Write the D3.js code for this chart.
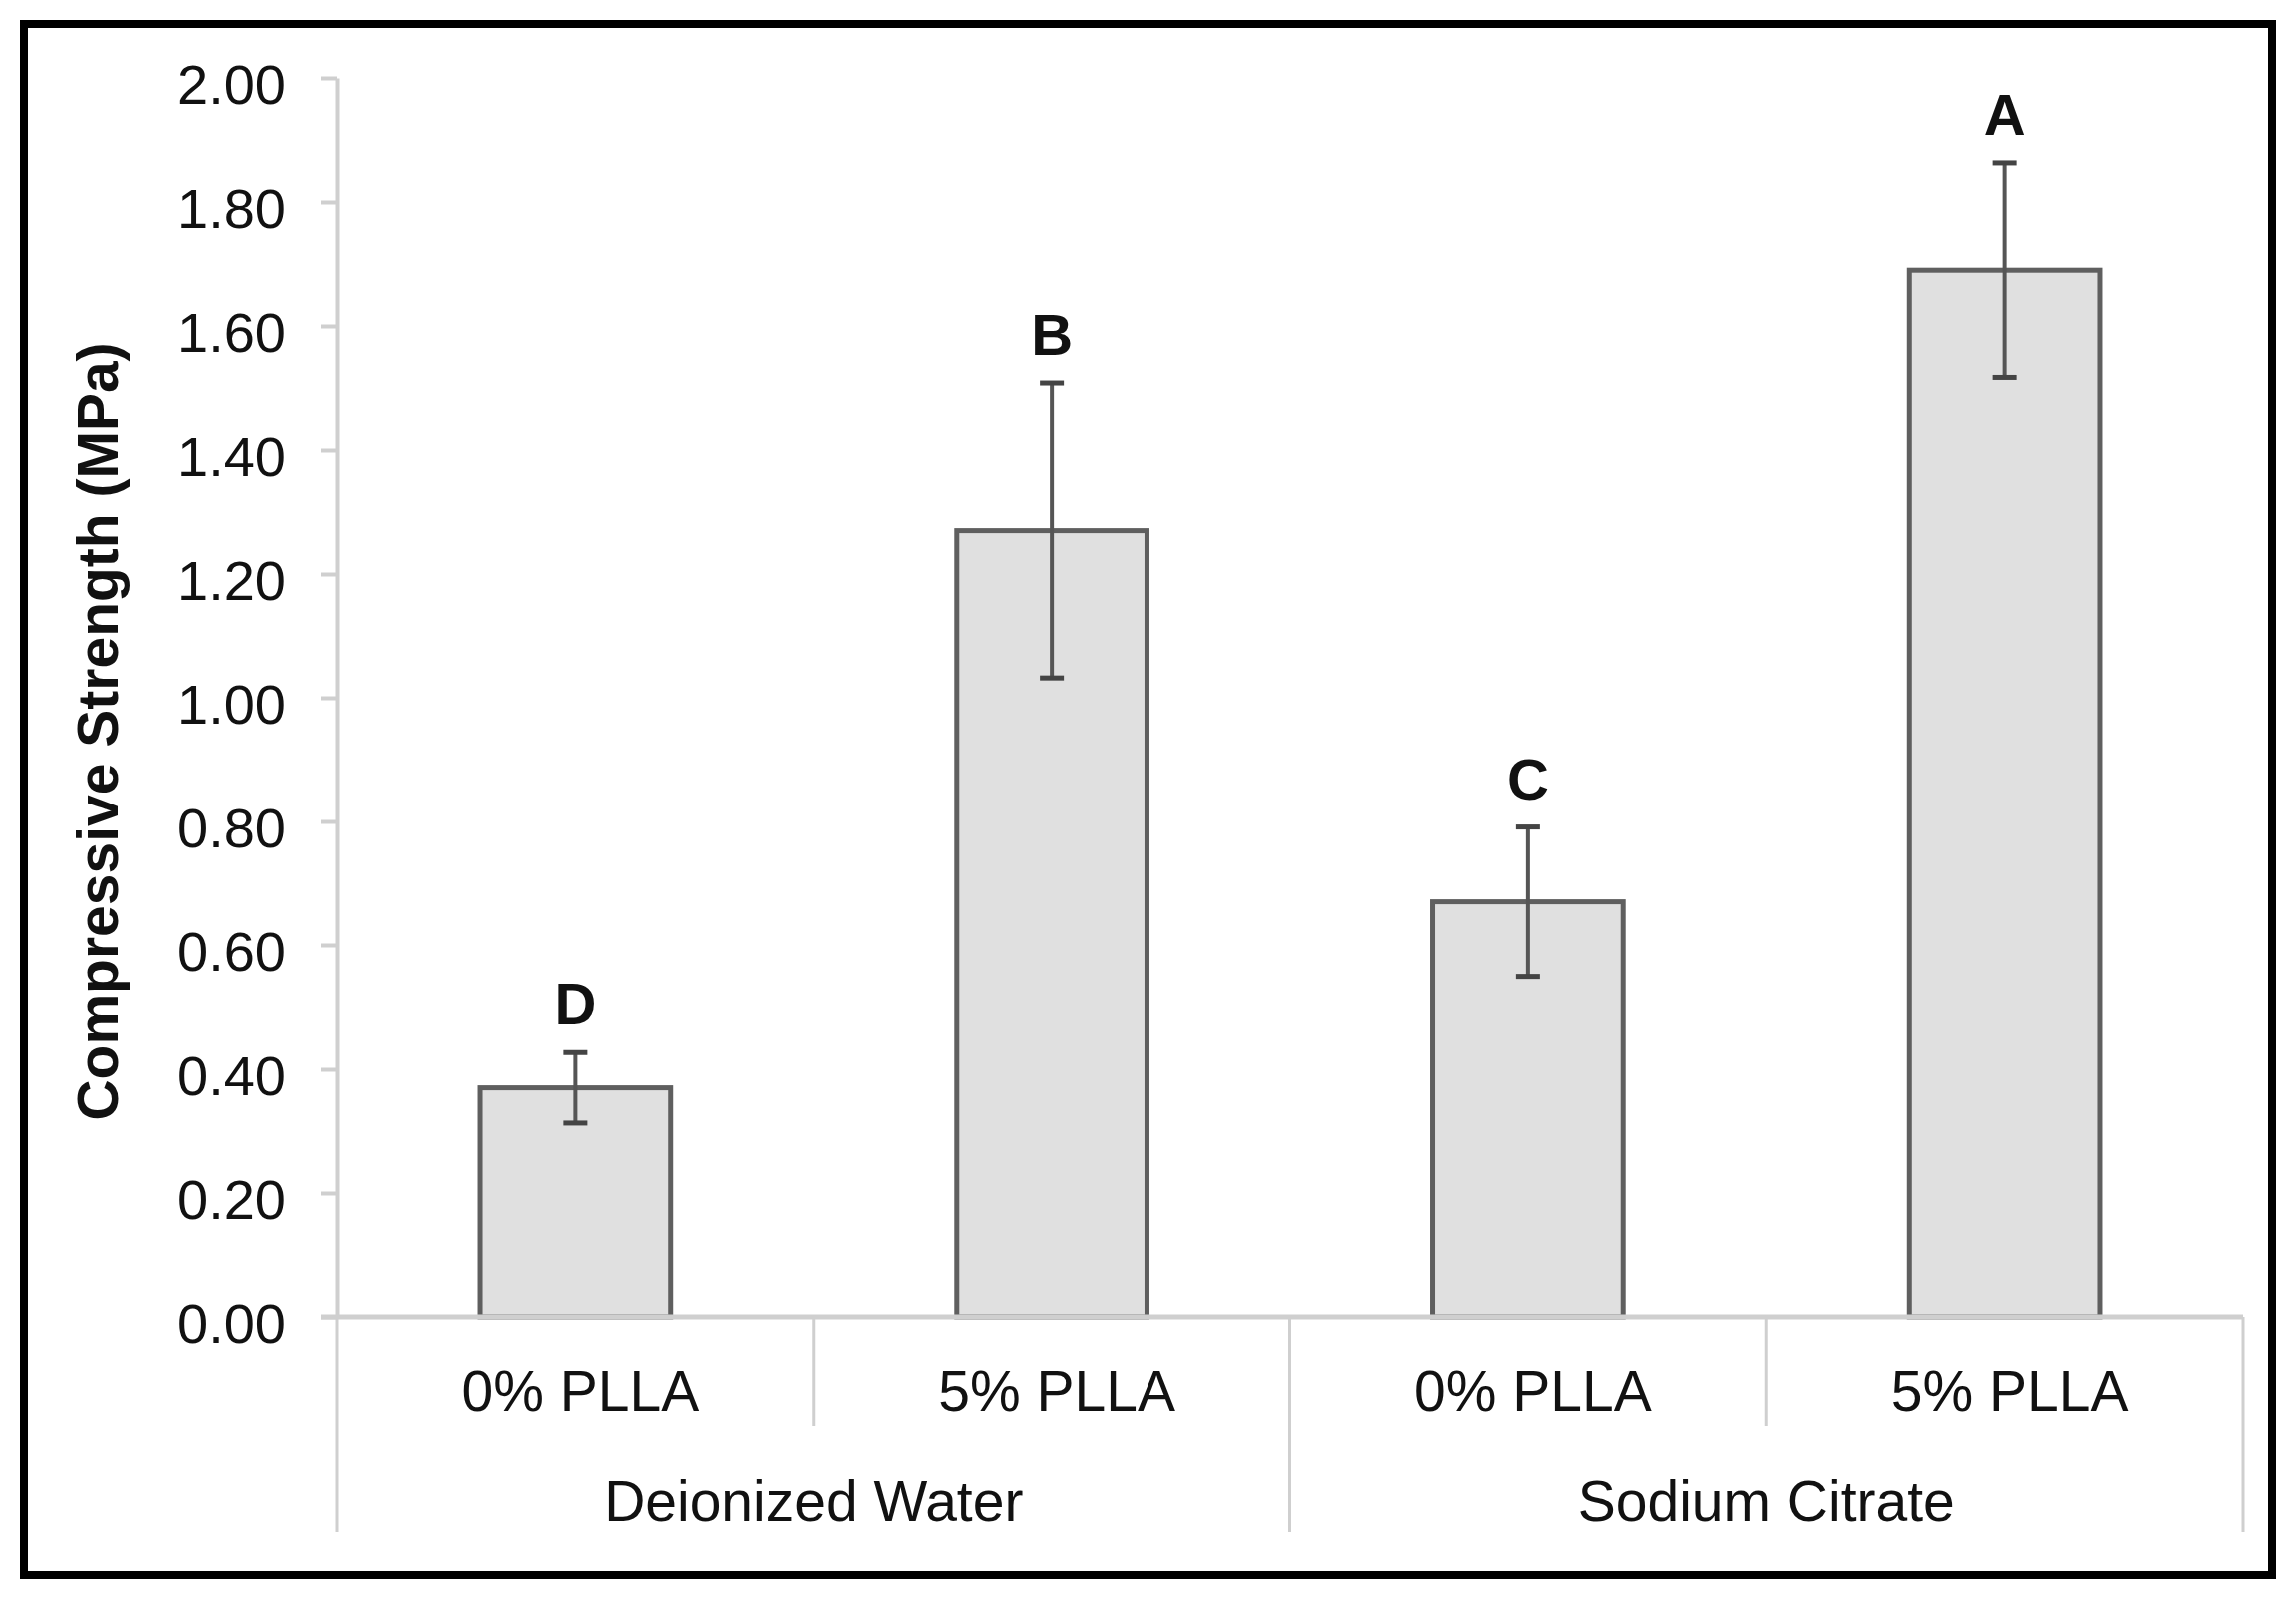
<!DOCTYPE html>
<html>
<head>
    <meta charset="utf-8">
    <title>Compressive Strength</title>
    <script src="https://d3js.org/d3.v7.min.js"></script>
    <style>
        body { margin: 0; background: #fff; }
        text { font-family: "Liberation Sans", Arial, sans-serif; fill: #111; }
    </style>
</head>
<body>
<div id="chart"></div>
<script>
    // data
    let groups = ["Deionized Water", "Sodium Citrate"];
    let categories = ["0% PLLA", "5% PLLA", "0% PLLA", "5% PLLA"];
    let groupOf = [0, 0, 1, 1];
    let values = [0.37, 1.27, 0.67, 1.69];
    let errors = [0.057, 0.238, 0.121, 0.173];
    let letters = ["D", "B", "C", "A"];
    let yTicks = [0, 0.2, 0.4, 0.6, 0.8, 1.0, 1.2, 1.4, 1.6, 1.8, 2.0];

    let W = 2297, H = 1610;
    let margin = {top: 78, left: 337, right: 53, bottom: 292};

    let svg = d3.select("#chart")
        .append("svg")
        .attr("width", W)
        .attr("height", H);

    // black frame
    svg.append("rect")
        .attr("x", 24).attr("y", 24)
        .attr("width", 2249).attr("height", 1552)
        .attr("fill", "none")
        .attr("stroke", "#000")
        .attr("stroke-width", 8);

    let x = d3.scaleBand()
        .domain(d3.range(categories.length))
        .range([margin.left, W - margin.right])
        .paddingInner(0.6)
        .paddingOuter(0.3);

    let y = d3.scaleLinear()
        .domain([0, 2])
        .range([H - margin.bottom, margin.top]);

    let y0 = y(0);
    let axisColor = "#cfcfcf";

    // y axis
    let yAxis = d3.axisLeft(y)
        .tickValues(yTicks)
        .tickFormat(d3.format(".2f"))
        .tickSize(16)
        .tickSizeOuter(0)
        .tickPadding(35);

    let gy = svg.append("g")
        .attr("transform", "translate(" + margin.left + ",0)")
        .call(yAxis);
    gy.select(".domain").attr("stroke", axisColor).attr("stroke-width", 4);
    gy.selectAll(".tick line").attr("stroke", axisColor).attr("stroke-width", 4);
    gy.selectAll(".tick text")
        .attr("font-size", "56px")
        .attr("dy", "0.45em")
        .attr("fill", "#111");

    // bars
    svg.selectAll("rect.bar")
        .data(values)
        .enter()
        .append("rect")
        .attr("class", "bar")
        .attr("x", function(d, i) { return x(i); })
        .attr("y", function(d) { return y(d); })
        .attr("width", x.bandwidth())
        .attr("height", function(d) { return y0 - y(d); })
        .attr("fill", "#e0e0e0")
        .attr("stroke", "#5f5f5f")
        .attr("stroke-width", 5);

    // error bars
    let eb = svg.selectAll("g.err")
        .data(values)
        .enter()
        .append("g")
        .attr("class", "err")
        .attr("transform", function(d, i) { return "translate(" + (x(i) + x.bandwidth() / 2) + ",0)"; });

    eb.append("line")
        .attr("y1", function(d, i) { return y(d + errors[i]); })
        .attr("y2", function(d, i) { return y(d - errors[i]); })
        .attr("stroke", "#555").attr("stroke-width", 4);
    eb.append("line")
        .attr("x1", -12).attr("x2", 12)
        .attr("y1", function(d, i) { return y(d + errors[i]); })
        .attr("y2", function(d, i) { return y(d + errors[i]); })
        .attr("stroke", "#444").attr("stroke-width", 5);
    eb.append("line")
        .attr("x1", -12).attr("x2", 12)
        .attr("y1", function(d, i) { return y(d - errors[i]); })
        .attr("y2", function(d, i) { return y(d - errors[i]); })
        .attr("stroke", "#444").attr("stroke-width", 5);

    // significance letters
    eb.append("text")
        .attr("y", function(d, i) { return y(d + errors[i]) - 28; })
        .attr("text-anchor", "middle")
        .attr("font-size", "58px")
        .attr("font-weight", "bold")
        .text(function(d, i) { return letters[i]; });

    // x axis line
    svg.append("line")
        .attr("x1", margin.left - 16).attr("x2", W - margin.right)
        .attr("y1", y0).attr("y2", y0)
        .attr("stroke", axisColor).attr("stroke-width", 5);

    // separators between categories and groups
    let step = x.step();
    let bounds = d3.range(categories.length + 1).map(function(i) { return margin.left + i * step; });
    svg.selectAll("line.sep")
        .data(bounds)
        .enter()
        .append("line")
        .attr("class", "sep")
        .attr("x1", function(d) { return d; })
        .attr("x2", function(d) { return d; })
        .attr("y1", y0)
        .attr("y2", function(d, i) { return i % 2 === 0 ? 1533 : 1427; })
        .attr("stroke", axisColor)
        .attr("stroke-width", 3);

    // category labels
    svg.selectAll("text.cat")
        .data(categories)
        .enter()
        .append("text")
        .attr("class", "cat")
        .attr("x", function(d, i) { return x(i) + x.bandwidth() / 2 + 5; })
        .attr("y", 1412)
        .attr("text-anchor", "middle")
        .attr("font-size", "57px")
        .text(function(d) { return d; });

    // group labels
    svg.selectAll("text.grp")
        .data(groups)
        .enter()
        .append("text")
        .attr("class", "grp")
        .attr("x", function(d, gi) {
            let idx = d3.range(categories.length).filter(function(i) { return groupOf[i] === gi; });
            return (bounds[idx[0]] + bounds[idx[idx.length - 1] + 1]) / 2;
        })
        .attr("y", 1522)
        .attr("text-anchor", "middle")
        .attr("font-size", "57px")
        .text(function(d) { return d; });

    // y axis title
    svg.append("text")
        .attr("transform", "translate(118," + 732 + ") rotate(-90)")
        .attr("text-anchor", "middle")
        .attr("font-size", "57px")
        .attr("font-weight", "bold")
        .text("Compressive Strength (MPa)");
</script>
</body>
</html>
